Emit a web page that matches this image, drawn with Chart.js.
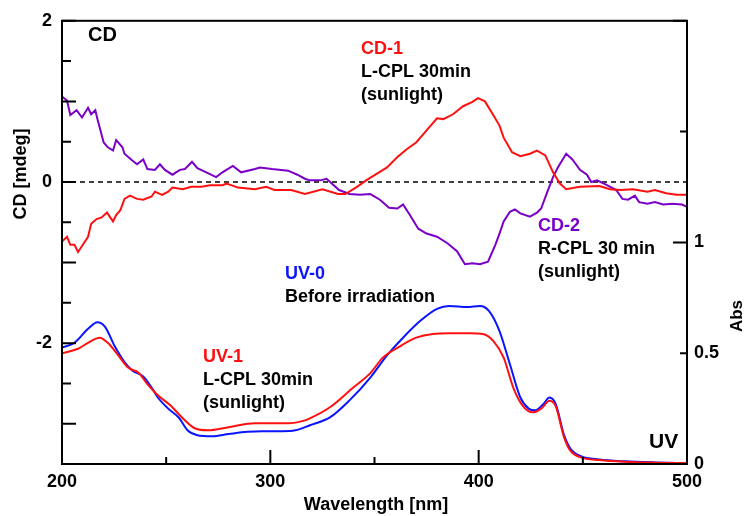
<!DOCTYPE html>
<html>
<head>
<meta charset="utf-8">
<script src="https://cdn.jsdelivr.net/npm/chart.js@4"></script>
<style>
  html, body { margin: 0; padding: 0; background: #fff; }
  canvas { display: block; }
</style>
</head>
<body>
<canvas id="chart" width="745" height="516"></canvas>
<script>
// CD-1 : L-CPL 30 min (sunlight), mdeg
const cd1Wl = [200, 202.4, 204, 206, 207.7, 210, 212.5, 214, 216.6, 219, 221.6, 224.5, 226, 228, 230, 232.6, 236, 239, 243, 244.6, 248, 251, 253, 258, 262, 267, 271, 277, 279, 284.5, 292.6, 298, 302, 310, 316.6, 325, 332.5, 336, 341.6, 346, 351, 356, 361, 365.6, 370, 375, 380, 383, 387.7, 392.5, 396.8, 399.7, 403, 407, 410, 412, 416, 420, 424.6, 428, 432, 435.7, 439, 442, 448.6, 458, 463, 468, 474, 481, 484.6, 490, 495, 500];
const cd1Val = [-0.74, -0.68, -0.78, -0.78, -0.87, -0.78, -0.68, -0.52, -0.46, -0.44, -0.38, -0.49, -0.41, -0.35, -0.21, -0.17, -0.21, -0.22, -0.18, -0.12, -0.16, -0.12, -0.07, -0.09, -0.06, -0.06, -0.04, -0.04, -0.02, -0.07, -0.09, -0.06, -0.10, -0.10, -0.15, -0.09, -0.15, -0.15, -0.06, 0.02, 0.10, 0.18, 0.31, 0.41, 0.49, 0.64, 0.79, 0.78, 0.84, 0.94, 0.99, 1.04, 1.00, 0.83, 0.70, 0.55, 0.37, 0.32, 0.35, 0.39, 0.33, 0.12, -0.02, -0.09, -0.06, -0.05, -0.09, -0.10, -0.09, -0.12, -0.10, -0.14, -0.16, -0.16];

// CD-2 : R-CPL 30 min (sunlight), mdeg
const cd2Wl = [200, 202.4, 204, 207, 209.6, 212.5, 214, 216, 217, 220, 222, 224.5, 226, 229, 230, 233.6, 236, 239, 241, 244.6, 247, 249.4, 253, 256.6, 259, 262.4, 265, 270, 274, 277, 282, 286, 292.6, 295, 300.8, 308.5, 313, 316.6, 319, 324, 327, 333, 338, 343, 348, 352.6, 357, 361, 363.7, 367, 371, 375, 380, 385, 389.6, 393.4, 397, 400.6, 404.5, 408, 410, 412, 415, 417.4, 420, 424.6, 428, 430, 433, 435.7, 438, 442, 445, 448.6, 452, 454, 456.8, 461.6, 466, 469, 471.7, 475, 477, 481, 484.6, 488.5, 493, 497.6, 500];
const cd2Val = [1.06, 1.01, 0.83, 0.89, 0.80, 0.92, 0.84, 0.89, 0.78, 0.49, 0.43, 0.39, 0.52, 0.43, 0.35, 0.27, 0.22, 0.28, 0.16, 0.15, 0.22, 0.15, 0.09, 0.15, 0.16, 0.25, 0.17, 0.11, 0.06, 0.12, 0.20, 0.12, 0.16, 0.18, 0.16, 0.14, 0.09, 0.04, 0.02, 0.02, 0.04, -0.10, -0.15, -0.16, -0.15, -0.22, -0.32, -0.33, -0.28, -0.41, -0.58, -0.64, -0.68, -0.76, -0.86, -1.02, -1.01, -1.02, -0.99, -0.78, -0.64, -0.49, -0.37, -0.34, -0.39, -0.43, -0.38, -0.33, -0.12, 0.06, 0.18, 0.35, 0.28, 0.15, 0.09, 0.00, 0.02, -0.04, -0.10, -0.21, -0.22, -0.17, -0.25, -0.27, -0.25, -0.28, -0.27, -0.28, -0.31];

// UV-0 : before irradiation, Abs
const uv0Wl = [200, 206, 212.5, 217, 220.6, 225.4, 230, 234, 239, 243, 246, 251, 256, 260.5, 265, 272, 280, 289, 296, 305.6, 312, 319, 328.6, 338, 348, 356, 363.7, 372, 380, 386, 394.4, 400.6, 405, 410, 415, 420, 424, 427, 431, 434, 437, 441, 444, 449, 458, 470, 485, 500];
const uv0Val = [0.525, 0.547, 0.61, 0.64, 0.62, 0.53, 0.46, 0.42, 0.395, 0.345, 0.30, 0.25, 0.21, 0.15, 0.13, 0.125, 0.135, 0.145, 0.148, 0.148, 0.152, 0.175, 0.21, 0.287, 0.39, 0.49, 0.57, 0.646, 0.70, 0.713, 0.708, 0.713, 0.69, 0.60, 0.45, 0.30, 0.25, 0.242, 0.27, 0.30, 0.27, 0.13, 0.07, 0.035, 0.02, 0.012, 0.007, 0.004];

// UV-1 : L-CPL 30 min (sunlight), Abs
const uv1Wl = [200, 207.7, 212.5, 218, 222, 227, 231.7, 237, 241, 246, 252, 257.6, 264, 270, 280, 292.6, 299, 308.5, 316.6, 319, 328.6, 339.8, 348, 354, 362, 370, 378, 386, 396, 402, 407, 412, 416.6, 421, 426, 430, 434, 437, 441, 444, 449, 458, 470, 485, 500];
const uv1Val = [0.50, 0.52, 0.547, 0.57, 0.547, 0.49, 0.435, 0.41, 0.36, 0.31, 0.265, 0.21, 0.16, 0.152, 0.166, 0.184, 0.184, 0.184, 0.197, 0.206, 0.256, 0.345, 0.41, 0.48, 0.53, 0.57, 0.587, 0.59, 0.59, 0.587, 0.556, 0.48, 0.345, 0.265, 0.233, 0.25, 0.285, 0.26, 0.12, 0.06, 0.03, 0.018, 0.01, 0.006, 0.004];

const cdTickLabels = [2, 0, -2];
const absTickLabels = [0, 0.5, 1];
const wlTickLabels = [200, 300, 400, 500];

const RED = '#ff1010';
const PURPLE = '#7a00c8';
const BLUE = '#0a14ff';
const FONT = '"Liberation Sans", Arial, sans-serif';

const pts = (xs, ys) => xs.map((x, i) => ({ x: x, y: ys[i] }));

const frame = {
    id: 'frame',
    beforeDatasetsDraw(chart) {
        const { ctx, chartArea: a, scales } = chart;
        const y0 = scales.yCD.getPixelForValue(0);
        ctx.save();
        ctx.strokeStyle = '#000';
        ctx.lineWidth = 1.5;
        ctx.setLineDash([5, 4]);
        ctx.beginPath();
        ctx.moveTo(a.left, y0);
        ctx.lineTo(a.right, y0);
        ctx.stroke();
        ctx.restore();
    },
    afterDraw(chart) {
        const { ctx, chartArea: a, scales } = chart;
        ctx.save();
        ctx.strokeStyle = '#000';
        ctx.lineWidth = 2;
        ctx.strokeRect(a.left, a.top, a.right - a.left, a.bottom - a.top);

        ctx.beginPath();
        scales.yCD.ticks.forEach(t => {
            const y = scales.yCD.getPixelForValue(t.value);
            const len = Number.isInteger(t.value) ? 14 : 9;
            ctx.moveTo(a.left, y);
            ctx.lineTo(a.left + len, y);
        });
        scales.yAbs.ticks.forEach(t => {
            const y = scales.yAbs.getPixelForValue(t.value);
            const len = Number.isInteger(t.value) ? 14 : 7;
            ctx.moveTo(a.right, y);
            ctx.lineTo(a.right - len, y);
        });
        scales.x.ticks.forEach(t => {
            const x = scales.x.getPixelForValue(t.value);
            const len = t.value % 100 === 0 ? 14 : 7;
            ctx.moveTo(x, a.bottom);
            ctx.lineTo(x, a.bottom - len);
        });
        ctx.stroke();

        // axis titles
        ctx.fillStyle = '#000';
        ctx.font = 'bold 18px ' + FONT;
        ctx.textAlign = 'center';
        ctx.textBaseline = 'middle';
        ctx.fillText('Wavelength [nm]', 376, 505);
        ctx.save();
        ctx.translate(21, 174);
        ctx.rotate(-Math.PI / 2);
        ctx.fillText('CD [mdeg]', 0, 0);
        ctx.restore();
        ctx.save();
        ctx.translate(737, 316);
        ctx.rotate(-Math.PI / 2);
        ctx.font = 'bold 17px ' + FONT;
        ctx.fillText('Abs', 0, 0);
        ctx.restore();

        // annotations
        ctx.textAlign = 'left';
        ctx.textBaseline = 'alphabetic';
        const note = (lines, x, y, color) => {
            lines.forEach((s, i) => {
                ctx.fillStyle = i === 0 ? color : '#000';
                ctx.fillText(s, x, y + i * 23);
            });
        };
        ctx.font = 'bold 18px ' + FONT;
        note(['CD-1', 'L-CPL 30min', '(sunlight)'], 361, 54, RED);
        note(['CD-2', 'R-CPL 30 min', '(sunlight)'], 538, 231, PURPLE);
        note(['UV-0', 'Before irradiation'], 285, 279, BLUE);
        note(['UV-1', 'L-CPL 30min', '(sunlight)'], 203, 362, RED);
        ctx.fillStyle = '#000';
        ctx.font = 'bold 20px ' + FONT;
        ctx.fillText('CD', 88, 41);
        ctx.font = 'bold 21px ' + FONT;
        ctx.fillText('UV', 649, 448);
        ctx.restore();
    }
};

const tickFont = { family: FONT, size: 18, weight: 'bold' };

new Chart(document.getElementById('chart'), {
    type: 'line',
    data: {
        datasets: [
            { label: 'CD-1', data: pts(cd1Wl, cd1Val), yAxisID: 'yCD', borderColor: RED, borderWidth: 2, pointRadius: 0, tension: 0 },
            { label: 'CD-2', data: pts(cd2Wl, cd2Val), yAxisID: 'yCD', borderColor: PURPLE, borderWidth: 2, pointRadius: 0, tension: 0 },
            { label: 'UV-1', data: pts(uv1Wl, uv1Val), yAxisID: 'yAbs', borderColor: RED, borderWidth: 2, pointRadius: 0, cubicInterpolationMode: 'monotone' },
            { label: 'UV-0', data: pts(uv0Wl, uv0Val), yAxisID: 'yAbs', borderColor: BLUE, borderWidth: 2, pointRadius: 0, cubicInterpolationMode: 'monotone' }
        ]
    },
    options: {
        responsive: false,
        animation: false,
        layout: { padding: { top: 18, left: 0, right: 0, bottom: 0 } },
        plugins: { legend: { display: false }, tooltip: { enabled: false } },
        scales: {
            x: {
                type: 'linear',
                min: 200, max: 500,
                grid: { display: false, drawTicks: false },
                border: { display: false },
                ticks: {
                    stepSize: 50, color: '#000', font: tickFont, padding: 7, maxRotation: 0,
                    callback: v => wlTickLabels.includes(v) ? String(v) : ''
                },
                afterFit: s => { s.height = 52; }
            },
            yCD: {
                type: 'linear', position: 'left',
                min: -3.5, max: 2,
                grid: { display: false, drawTicks: false },
                border: { display: false },
                ticks: {
                    stepSize: 0.5, color: '#000', font: tickFont, padding: 10,
                    callback: v => cdTickLabels.includes(v) ? String(v) : ''
                },
                afterFit: s => { s.width = 62; }
            },
            yAbs: {
                type: 'linear', position: 'right',
                min: 0, max: 2,
                grid: { display: false, drawTicks: false },
                border: { display: false },
                ticks: {
                    stepSize: 0.5, color: '#000', font: tickFont, padding: 7,
                    callback: v => absTickLabels.includes(v) ? String(v) : ''
                },
                afterFit: s => { s.width = 58; }
            }
        }
    },
    plugins: [frame]
});
</script>
</body>
</html>
